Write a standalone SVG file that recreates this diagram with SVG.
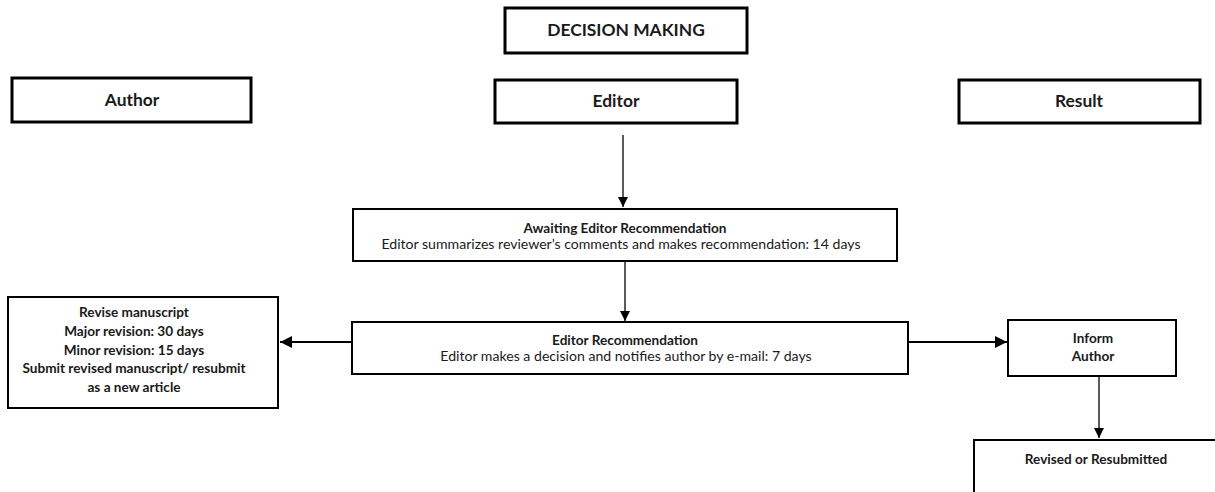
<svg xmlns="http://www.w3.org/2000/svg" width="1215" height="492" viewBox="0 0 1215 492">
  <style>
    text { font-family: Lato, "Liberation Sans", sans-serif; fill: #1a1a1a; text-anchor: middle; }
    .head { fill: #fff; stroke: #000; stroke-width: 3; }
    .box { fill: #fff; stroke: #000; stroke-width: 2; }
    .h { font-size: 17.4px; font-weight: bold; }
    .t { font-size: 13.6px; font-weight: bold; }
    .n { font-size: 14.1px; }
    .thin { stroke: #000; stroke-width: 1.3; fill: none; }
    .thick { stroke: #000; stroke-width: 2; fill: none; }
  </style>
  <defs>
    <marker id="arrow" viewBox="0 0 10 10" refX="10" refY="5" markerWidth="10" markerHeight="10" markerUnits="userSpaceOnUse" orient="auto">
      <path d="M0,0 L10,5 L0,10 z" fill="#000"/>
    </marker>
    <marker id="arrowWide" viewBox="0 0 10 10" refX="10" refY="5" markerWidth="12" markerHeight="12" markerUnits="userSpaceOnUse" orient="auto">
      <path d="M0,0 L10,5 L0,10 z" fill="#000"/>
    </marker>
  </defs>

  <!-- connectors -->
  <g id="connectors">
    <line class="thin" x1="623" y1="135" x2="623" y2="207" marker-end="url(#arrow)"/>
    <line class="thin" x1="625" y1="261" x2="625" y2="321" marker-end="url(#arrow)"/>
    <line class="thick" x1="356" y1="342" x2="280" y2="342" marker-end="url(#arrowWide)"/>
    <line class="thick" x1="908" y1="342" x2="1007" y2="342" marker-end="url(#arrowWide)"/>
    <line class="thin" x1="1099" y1="376" x2="1099" y2="438" marker-end="url(#arrow)"/>
  </g>

  <!-- column headers -->
  <g id="decision-making">
    <rect class="head" x="505" y="8" width="242" height="45"/>
    <text class="h" x="626" y="36">DECISION MAKING</text>
  </g>
  <g id="author">
    <rect class="head" x="12" y="78" width="239" height="44"/>
    <text class="h" x="132" y="106">Author</text>
  </g>
  <g id="editor">
    <rect class="head" x="495" y="80" width="242" height="43"/>
    <text class="h" x="616" y="107">Editor</text>
  </g>
  <g id="result">
    <rect class="head" x="959" y="80" width="241" height="43"/>
    <text class="h" x="1079" y="107">Result</text>
  </g>

  <!-- process steps -->
  <g id="awaiting-editor-recommendation">
    <rect class="box" x="353" y="209" width="544" height="52"/>
    <text class="t" x="625" y="233">Awaiting Editor Recommendation</text>
    <text class="n" x="621" y="249">Editor summarizes reviewer’s comments and makes recommendation: 14 days</text>
  </g>
  <g id="editor-recommendation">
    <rect class="box" x="352" y="322" width="556" height="52"/>
    <text class="t" x="625" y="345">Editor Recommendation</text>
    <text class="n" x="626" y="361">Editor makes a decision and notifies author by e-mail: 7 days</text>
  </g>
  <g id="revise-manuscript">
    <rect class="box" x="8" y="297" width="270" height="111"/>
    <text class="t" x="134" y="317">Revise manuscript</text>
    <text class="t" x="134" y="336">Major revision: 30 days</text>
    <text class="t" x="134" y="355">Minor revision: 15 days</text>
    <text class="t" x="134" y="373">Submit revised manuscript/ resubmit</text>
    <text class="t" x="134" y="392">as a new article</text>
  </g>
  <g id="inform-author">
    <rect class="box" x="1008" y="320" width="168" height="56"/>
    <text class="t" x="1093" y="343">Inform</text>
    <text class="t" x="1093" y="361">Author</text>
  </g>
  <g id="revised-or-resubmitted">
    <rect class="box" x="974" y="440" width="260" height="70"/>
    <text class="t" x="1096" y="464">Revised or Resubmitted</text>
  </g>
</svg>
